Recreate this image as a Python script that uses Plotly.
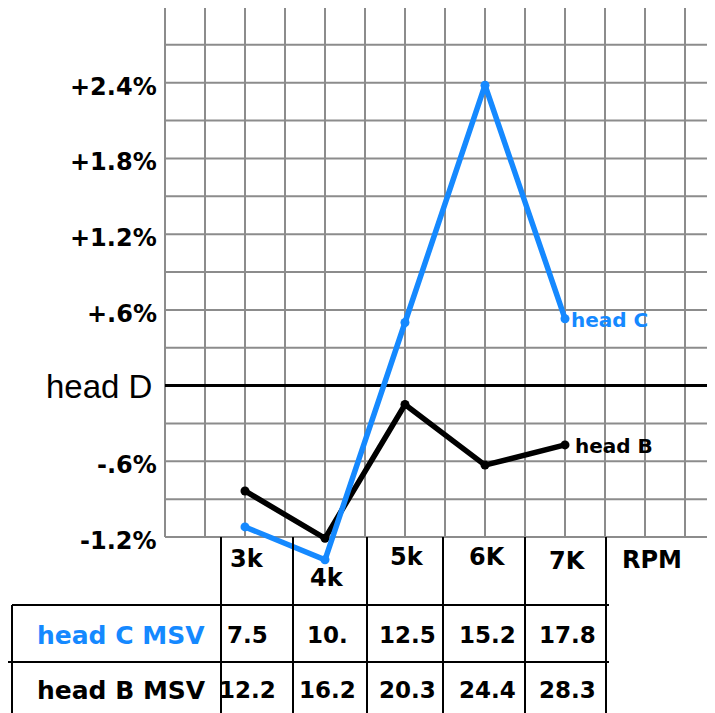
import numpy as np
import plotly.graph_objects as go

# ---- data ----
rpm_x = [3, 4, 5, 6, 7]
rpm_labels = ["3k", "4k", "5k", "6K", "7K"]
head_c = [-1.12, -1.38, 0.50, 2.38, 0.53]
head_b = [-0.835, -1.21, -0.15, -0.63, -0.47]
head_c_msv = ["7.5", "10.", "12.5", "15.2", "17.8"]
head_b_msv = ["12.2", "16.2", "20.3", "24.4", "28.3"]
y_tickvals = [2.4, 1.8, 1.2, 0.6, 0.0, -0.6, -1.2]
y_ticktext = ["+2.4%", "+1.8%", "+1.2%", "+.6%", "head D", "-.6%", "-1.2%"]

BLUE = "#1589ff"
GRID = "#8c8c8c"
OFF = 8                       # page body margin offset
W, H = 715 - OFF, 713 - OFF
BOLD = "DejaVu Sans"

# screen-pixel helpers (reference pixel coords -> figure)
X0_PX, X_PER = 165.0 - OFF, 80.0
Y0_PX, Y_PER = 385.6 - OFF, 37.86 / 0.3
x_range = [2 - X0_PX / X_PER, 2 + (W - X0_PX) / X_PER]
y_range = [(Y0_PX - H) / Y_PER, Y0_PX / Y_PER]

def py(p):
    return 1 - (p - OFF) / H

def px(p):
    return (p - OFF) / W

fig = go.Figure()

shapes = []
for gx in np.arange(2.0, 8.9, 0.5):
    shapes.append(dict(type="line", xref="x", yref="y", x0=gx, x1=gx, y0=-1.2, y1=3.0,
                       line=dict(color=GRID, width=2), layer="below"))
for gy in np.arange(-1.2, 3.01, 0.3):
    if abs(gy) < 1e-9:
        continue
    shapes.append(dict(type="line", xref="x", yref="y", x0=2, x1=x_range[1] + 1, y0=gy, y1=gy,
                       line=dict(color=GRID, width=2), layer="below"))
shapes.append(dict(type="line", xref="x", yref="y", x0=2, x1=x_range[1] + 1, y0=0, y1=0,
                   line=dict(color="black", width=3), layer="below"))

for cx in [221, 293, 367, 443, 525, 606]:
    shapes.append(dict(type="line", xref="paper", yref="paper", x0=px(cx), x1=px(cx),
                       y0=py(537), y1=py(725), line=dict(color="black", width=2)))
shapes.append(dict(type="line", xref="paper", yref="paper", x0=px(12), x1=px(12),
                   y0=py(605), y1=py(725), line=dict(color="black", width=2)))
shapes.append(dict(type="line", xref="paper", yref="paper", x0=px(12), x1=px(609),
                   y0=py(605), y1=py(605), line=dict(color="black", width=2)))
shapes.append(dict(type="line", xref="paper", yref="paper", x0=px(8), x1=px(609),
                   y0=py(662), y1=py(662), line=dict(color="black", width=2)))

fig.add_trace(go.Scatter(x=rpm_x, y=head_b, mode="lines+markers",
                         line=dict(color="black", width=5.5), marker=dict(size=9, color="black"),
                         cliponaxis=False, hoverinfo="skip"))
fig.add_trace(go.Scatter(x=rpm_x, y=head_c, mode="lines+markers",
                         line=dict(color=BLUE, width=5.5), marker=dict(size=9, color=BLUE),
                         cliponaxis=False, hoverinfo="skip"))

ann = []
for v, t in zip(y_tickvals, y_ticktext):
    if t == "head D":
        ann.append(dict(x=2, y=v, xref="x", yref="y", text=t, showarrow=False,
                        xanchor="right", yanchor="middle", xshift=-11, yshift=-1,
                        font=dict(family="Liberation Sans", size=33, color="black")))
    else:
        ann.append(dict(x=2, y=v, xref="x", yref="y", text="<b>%s</b>" % t, showarrow=False,
                        xanchor="right", yanchor="middle", xshift=-6, yshift=-4,
                        font=dict(family=BOLD, size=24, color="black")))

ann.append(dict(x=rpm_x[-1], y=head_c[-1], xref="x", yref="y", text="<b>head C</b>",
                showarrow=False, xanchor="left", yanchor="middle", xshift=4, yshift=-1,
                font=dict(family=BOLD, size=20, color=BLUE)))
ann.append(dict(x=rpm_x[-1], y=head_b[-1], xref="x", yref="y", text="<b>head B</b>",
                showarrow=False, xanchor="left", yanchor="middle", xshift=8, yshift=-1,
                font=dict(family=BOLD, size=20, color="black")))

hdr_rows = [559, 578, 557, 557, 561]
for xv, lab, r in zip(rpm_x, rpm_labels, hdr_rows):
    ann.append(dict(x=xv, y=py(r), xref="x", yref="paper", text="<b>%s</b>" % lab,
                    showarrow=False, xanchor="center", yanchor="middle", xshift=2,
                    font=dict(family=BOLD, size=24, color="black")))
ann.append(dict(x=8.09, y=py(560), xref="x", yref="paper", text="<b>RPM</b>",
                showarrow=False, xanchor="center", yanchor="middle",
                font=dict(family=BOLD, size=24, color="black")))

ann.append(dict(x=px(121), y=py(635), xref="paper", yref="paper", text="<b>head C MSV</b>",
                showarrow=False, xanchor="center", yanchor="middle",
                font=dict(family=BOLD, size=25, color=BLUE)))
ann.append(dict(x=px(122), y=py(690), xref="paper", yref="paper", text="<b>head B MSV</b>",
                showarrow=False, xanchor="center", yanchor="middle",
                font=dict(family=BOLD, size=25, color="black")))
for xv, a, b in zip(rpm_x, head_c_msv, head_b_msv):
    ann.append(dict(x=xv, y=py(635), xref="x", yref="paper", text="<b>%s</b>" % a,
                    showarrow=False, xanchor="center", yanchor="middle", xshift=2,
                    font=dict(family=BOLD, size=23, color="black")))
    ann.append(dict(x=xv, y=py(690), xref="x", yref="paper", text="<b>%s</b>" % b,
                    showarrow=False, xanchor="center", yanchor="middle", xshift=2,
                    font=dict(family=BOLD, size=23, color="black")))

fig.update_layout(
    width=W, height=H,
    margin=dict(l=0, r=0, t=0, b=0),
    paper_bgcolor="white", plot_bgcolor="white",
    showlegend=False,
    xaxis=dict(range=x_range, visible=False, fixedrange=True),
    yaxis=dict(range=y_range, visible=False, fixedrange=True),
    shapes=shapes,
    annotations=ann,
)

fig.write_html("out.html", config={"displayModeBar": False})
